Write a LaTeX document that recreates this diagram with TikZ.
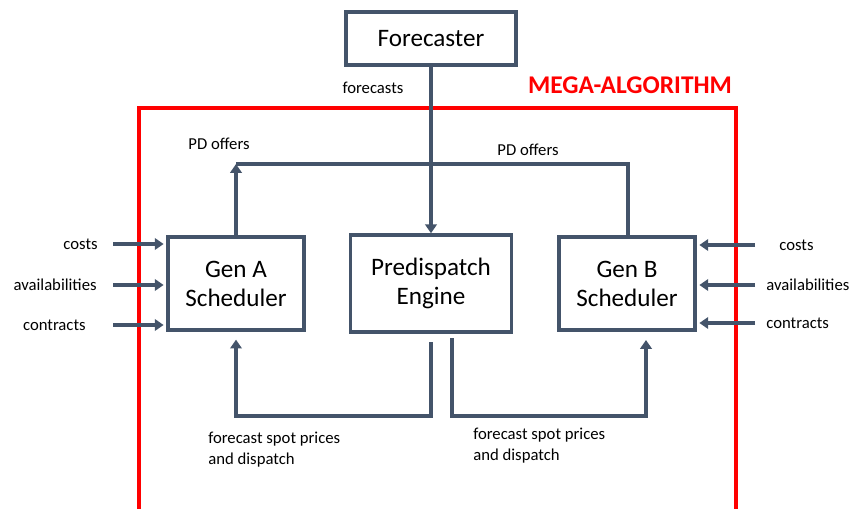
\documentclass[tikz,border=0pt]{standalone}
\usepackage{fontspec}
\setmainfont{Carlito}
\usetikzlibrary{arrows.meta}
\definecolor{slate}{HTML}{44546A}
\definecolor{megared}{HTML}{FF0000}
\begin{document}
\begin{tikzpicture}[x=0.02cm,y=-0.02cm,
	box/.style={draw=slate,line width=2pt,fill=white,align=center,inner sep=0pt,font=\fontsize{14.3}{16.5}\selectfont},
	wire/.style={draw=slate,line width=2pt},
	arr/.style={wire,-{Triangle[length=5pt,width=6.5pt]}},
	lbl/.style={inner sep=0pt,font=\fontsize{9.5}{11.5}\selectfont}]
	\useasboundingbox (0,0) rectangle (853,508);
	% Frame of the mega-algorithm
	\draw[megared,line width=2.1pt] (139,530) -- (139,108) -- (736,108) -- (736,530);
	\node[text=megared,font=\bfseries\fontsize{14.5}{17}\selectfont] (mega) at (630,85) {MEGA-ALGORITHM};
	% Blocks
	\node[box,minimum width=3.4cm,minimum height=1.06cm] (fc) at (431,38.5) {Forecaster};
	\node[box,minimum width=2.72cm,minimum height=1.86cm] (genA) at (236,283.5) {Gen A\\Scheduler};
	\node[box,minimum width=3.22cm,minimum height=1.94cm] (pde) at (431,283.5) {Predispatch\\Engine};
	\node[box,minimum width=2.72cm,minimum height=1.86cm] (genB) at (627,283.5) {Gen B\\Scheduler};
	% Forecasts and offers
	\draw[arr] (fc.south) -- (pde.north);
	\node[lbl] (fcl) at (373,88) {forecasts};
	\coordinate (pdA) at (236,164);
	\coordinate (pdB) at (628,164);
	\draw[arr] (genA.north) -- (pdA);
	\draw[wire] (pdA) -- (pdB) -- (pdB |- genB.north);
	\node[lbl] (pdlA) at (219,144) {PD offers};
	\node[lbl] (pdlB) at (528,150) {PD offers};
	% Prices and dispatch back to the schedulers
	\coordinate (fbA) at (431,342);
	\coordinate (fbB) at (452,338);
	\coordinate (endB) at (646,340);
	\draw[arr] (fbA) -- (431,416) -| ([yshift=-4.5pt]genA.south);
	\draw[arr] (fbB) -- (452,416) -| (endB);
	\node[lbl,anchor=north west,align=left] (fblA) at (208,432) {forecast spot prices\\and dispatch};
	\node[lbl,anchor=north west,align=left] (fblB) at (473,428) {forecast spot prices\\and dispatch};
	% Inputs of the schedulers
	\foreach \y/\x/\txt in {244/98/costs, 285/97/availabilities, 325/86/contracts} {
		\coordinate (inA\y) at (113,\y);
		\draw[arr,shorten >=1.5pt] (inA\y) -- (inA\y -| genA.west); % input arrow
		\node[lbl,anchor=east] at (\x,\y) {\txt};                      % label
	}
	\foreach \y/\x/\txt in {245/779/costs, 285/766/availabilities, 323/766/contracts} {
		\coordinate (inB\y) at (755,\y);
		\draw[arr,shorten >=1.5pt] (inB\y) -- (inB\y -| genB.east); % input arrow
		\node[lbl,anchor=west] at (\x,\y) {\txt};                      % label
	}
\end{tikzpicture}
\end{document}
